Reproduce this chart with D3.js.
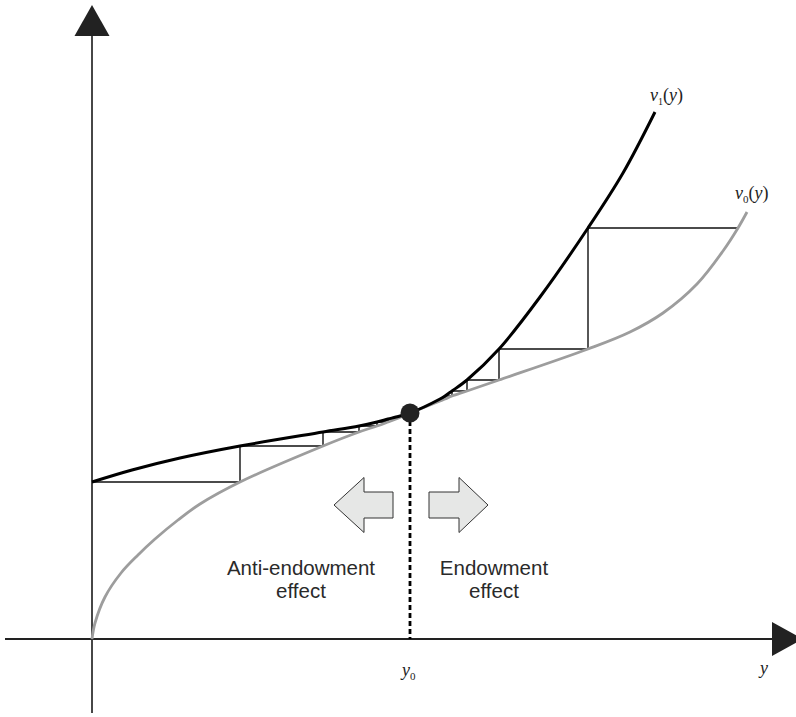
<!DOCTYPE html>
<html lang="en">
<head>
    <meta charset="utf-8">
    <title>Endowment effect</title>
    <script src="https://d3js.org/d3.v7.min.js"></script>
    <style>
        body {
            margin: 0;
            background: #fff;
        }

        svg {
            display: block;
        }

        .effect {
            font-family: "Liberation Sans", Arial, Helvetica, sans-serif;
            font-size: 20.5px;
            fill: #2a2a2a;
            text-anchor: middle;
        }

        .math {
            font-family: "Liberation Serif", "Times New Roman", serif;
            font-size: 18px;
            fill: #222;
        }
    </style>
</head>
<body>
<svg id="target" width="796" height="717"></svg>
<script type="text/javascript">
    const width = 796;
    const height = 717;

    // v0(y): grey curve, concave near the origin then convex
    const v0Points = [
        [0, 0], [3, 16], [13, 42], [29, 66], [46, 84], [63, 100], [86, 119], [108, 135],
        [148, 157], [231, 193], [267, 207], [285, 213], [296, 217], [304, 220], [318, 226],
        [348, 238], [353, 240], [360, 243], [375, 248], [407, 259], [496, 290],
        [538, 307], [571, 326], [605, 355], [631, 388], [646, 411], [655, 427]
    ];

    // v1(y): black curve
    const v1Points = [
        [0, 157], [40, 169], [88, 181], [148, 193], [231, 207], [267, 213], [285, 217],
        [296, 220], [304, 222], [318, 226], [348, 240], [353, 243], [360, 248], [375, 259],
        [407, 290], [448, 342], [496, 411], [531, 466], [563, 527]
    ];

    // staircases between the two curves
    const leftStepX = [0, 148, 231, 267, 285, 296, 304];
    const leftStepLevel = [157, 193, 207, 213, 217, 220, 222];
    const rightStepX = [646, 496, 407, 375, 360, 353, 348];
    const rightStepLevel = [411, 290, 259, 248, 243, 240, 238];

    const y0 = [318, 226];

    const x = d3.scaleLinear().domain([0, 704]).range([92, 796]);
    const y = d3.scaleLinear().domain([0, 600]).range([639, 39]);

    const svg = d3.select('#target');

    // axes
    svg.append('line')
        .attr('x1', x(-87)).attr('x2', x(682))
        .attr('y1', y(0)).attr('y2', y(0))
        .attr('stroke', '#222').attr('stroke-width', 1.8);
    svg.append('line')
        .attr('x1', x(0)).attr('x2', x(0))
        .attr('y1', y(-74)).attr('y2', y(605))
        .attr('stroke', '#333').attr('stroke-width', 1.8);

    // arrow heads
    svg.append('path')
        .attr('d', `M${x(0)},${y(634)} L${x(-17.5)},${y(603)} L${x(17.5)},${y(603)} Z`)
        .attr('fill', '#222');
    svg.append('path')
        .attr('d', `M${x(711)},${y(0)} L${x(680)},${y(17)} L${x(680)},${y(-17)} Z`)
        .attr('fill', '#222');

    const line = d3.line()
        .x(d => x(d[0]))
        .y(d => y(d[1]))
        .curve(d3.curveCatmullRom.alpha(0.5));

    // staircase paths: left one starts on v1, right one starts on v0
    function stairs(xs, levels) {
        const pts = [[xs[0], levels[0]]];
        for (let i = 1; i < xs.length; i++) {
            pts.push([xs[i], levels[i - 1]]);
            pts.push([xs[i], levels[i]]);
        }
        return pts;
    }

    const stepLine = d3.line().x(d => x(d[0])).y(d => y(d[1]));

    svg.selectAll('path.step')
        .data([stairs(leftStepX, leftStepLevel), stairs(rightStepX, rightStepLevel)])
        .join('path')
        .attr('class', 'step')
        .attr('d', stepLine)
        .attr('fill', 'none')
        .attr('stroke', '#111')
        .attr('stroke-width', 1.4);

    // curves
    svg.append('path')
        .attr('d', line(v0Points))
        .attr('fill', 'none')
        .attr('stroke', '#9d9d9d')
        .attr('stroke-width', 2.8);
    svg.append('path')
        .attr('d', line(v1Points))
        .attr('fill', 'none')
        .attr('stroke', '#000')
        .attr('stroke-width', 3);

    // dashed line to y0 and the meeting point
    svg.append('line')
        .attr('x1', x(y0[0])).attr('x2', x(y0[0]))
        .attr('y1', y(y0[1])).attr('y2', y(0))
        .attr('stroke', '#000')
        .attr('stroke-width', 2.8)
        .attr('stroke-dasharray', '5,3');
    svg.append('circle')
        .attr('cx', x(y0[0])).attr('cy', y(y0[1]))
        .attr('r', 9.5)
        .attr('fill', '#222');

    // block arrows
    const blockArrows = [
        {tip: 242, base: 272, end: 301},
        {tip: 396, base: 367, end: 337}
    ];
    const arrowMid = 134;
    svg.selectAll('path.block')
        .data(blockArrows)
        .join('path')
        .attr('class', 'block')
        .attr('d', d => 'M' + [
            [x(d.tip), y(arrowMid)],
            [x(d.base), y(arrowMid + 27.5)],
            [x(d.base), y(arrowMid + 13)],
            [x(d.end), y(arrowMid + 13)],
            [x(d.end), y(arrowMid - 13)],
            [x(d.base), y(arrowMid - 13)],
            [x(d.base), y(arrowMid - 27.5)]
        ].join('L') + 'Z')
        .attr('fill', '#e6e7e6')
        .attr('stroke', '#333')
        .attr('stroke-width', 1);

    // effect labels
    const effectLabels = [
        {cx: 209, lines: ['Anti-endowment', 'effect']},
        {cx: 402, lines: ['Endowment', 'effect']}
    ];
    effectLabels.forEach(lab => {
        const t = svg.append('text').attr('class', 'effect');
        lab.lines.forEach((s, i) => {
            t.append('tspan')
                .attr('x', x(lab.cx))
                .attr('y', y(64) + i * 23)
                .text(s);
        });
    });

    // math labels
    function mathLabel(px, py, sub, subSize) {
        const t = svg.append('text').attr('class', 'math')
            .attr('x', px).attr('y', py);
        t.append('tspan').attr('font-style', 'italic').text(sub[0]);
        t.append('tspan').attr('font-size', subSize).attr('dy', 4).text(sub[1]);
        if (sub.length > 2) {
            t.append('tspan').attr('dy', -4).text('(');
            t.append('tspan').attr('font-style', 'italic').text('y');
            t.append('tspan').text(')');
        }
        return t;
    }

    mathLabel(x(558), y(538), ['v', '1', '(y)'], 10);
    mathLabel(x(643), y(440), ['v', '0', '(y)'], 11);
    mathLabel(x(310), y(-37), ['y', '0'], 11);
    svg.append('text').attr('class', 'math')
        .attr('x', x(668)).attr('y', y(-35))
        .attr('font-style', 'italic')
        .text('y');
</script>
</body>
</html>
